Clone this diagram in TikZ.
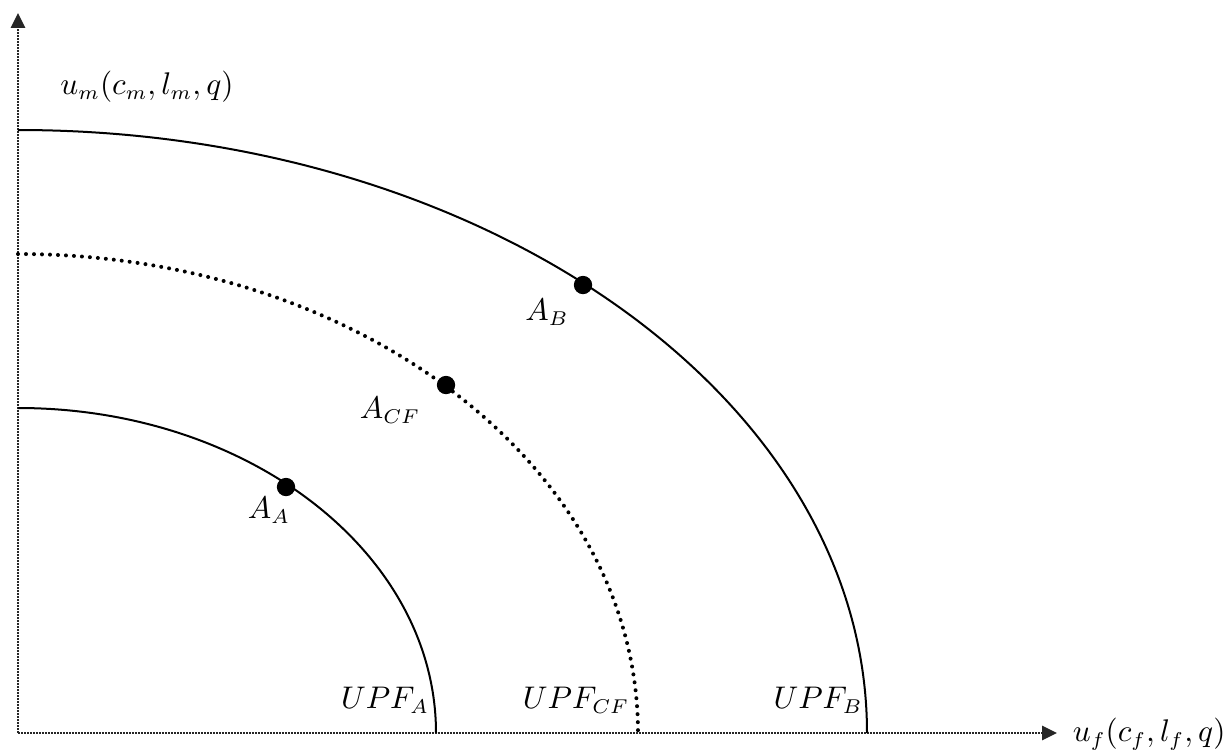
\documentclass[tikz,border=0pt]{standalone}
\usepackage{amsmath,amssymb}
\usetikzlibrary{positioning}
\usetikzlibrary{calc,arrows.meta}
\tikzset{
  auto,
  semithick,
  axis/.style = {line width=0.6pt, black!85, dash pattern=on 0.55pt off 0.5pt,
   -{Triangle[length=5.2pt,width=5pt]}},
  upf/.style = {line width=0.7pt},
  upfdot/.style = {line width=1.4pt, line cap=round, dash pattern=on 0pt off 2.8pt},
  point/.style = {circle, draw=black, inner sep=0pt, minimum size=6pt,
   fill=black, node contents={}},
  lbl/.style = {inner sep=0pt, font=\fontsize{10.5}{12}\selectfont},
}
\begin{document}
\begin{tikzpicture}[x=0.35pt, y=0.35pt]
  \useasboundingbox (0,0) rectangle (1230,749);
  \coordinate (O) at (18,16);
  \coordinate (ytip) at (18,736);
  \coordinate (xtip) at (1057,16);
  \draw[axis] (O) -- (ytip);
  \draw[axis] (O) -- (xtip);
  \node (um) [lbl] at (147,662) {$u_m(c_m,l_m,q)$};
  \node (uf) [lbl, anchor=east] at (1226,15) {$u_f(c_f,l_f,q)$};
  % frontiers
  \draw[upf] (18,341) arc[start angle=90, end angle=0, x radius=418, y radius=325];
  \draw[upfdot] (18,495) arc[start angle=90, end angle=0, x radius=620, y radius=479];
  \draw[upf] (18,619) arc[start angle=90, end angle=0, x radius=849, y radius=603];
  \node (upfA) [lbl] at (385,49) {$UPF_A$};
  \node (upfCF) [lbl] at (576,49) {$UPF_{CF}$};
  \node (upfB) [lbl] at (818,49) {$UPF_B$};
  % allocations
  \node (AA) at (286,262) [point];
  \node (ACF) at (446,364) [point];
  \node (AB) at (583,464) [point];
  \node (lAA) [lbl] at (269,239) {$A_A$};
  \node (lACF) [lbl] at (390,339) {$A_{CF}$};
  \node (lAB) [lbl] at (547,437) {$A_B$};
\end{tikzpicture}
\end{document}
